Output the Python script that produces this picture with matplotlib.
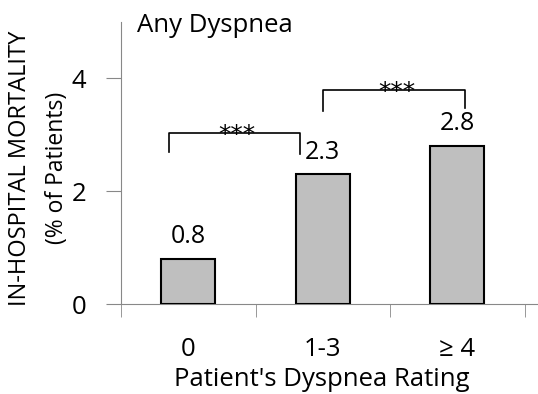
import matplotlib
matplotlib.use('Agg')
import matplotlib.pyplot as plt

categories = ["0", "1-3", "\u2265 4"]
mortality = [0.8, 2.3, 2.8]
value_labels = ["0.8", "2.3", "2.8"]

# significance brackets: (x start, x end, top, left leg bottom, right leg bottom, text)
brackets = [(-0.14, 0.83, 3.04, 2.69, 2.66, "***"),
            (1.0, 2.06, 3.79, 3.43, 3.47, "***")]

plt.rcParams['font.family'] = ['Open Sans', 'DejaVu Sans']

fig = plt.figure(figsize=(5.38, 3.94), dpi=100)
ax = fig.add_axes([121/538, 1 - 304/394, (538 - 121)/538, (304 - 22)/394])

x = list(range(len(categories)))
ax.bar(x, mortality, width=0.4, color="#bfbfbf", edgecolor="black", linewidth=1.5, zorder=3)

for xi, v, lab in zip(x, mortality, value_labels):
    ax.annotate(lab, (xi, v), xytext=(0, 7), textcoords="offset points",
                ha="center", va="bottom", fontsize=18)

for x0, x1, top, l0, l1, txt in brackets:
    ax.plot([x0, x0, x1, x1], [l0, top, top, l1], color="black", linewidth=1.2)
    ax.text((x0 + x1) / 2 + 0.02, top - 0.25, txt, ha="center", va="bottom",
            fontsize=18, family="DejaVu Sans")

ax.set_xlim(-0.5, 2.6)
ax.set_ylim(0, 5)
ax.set_yticks([0, 2, 4])
ax.set_yticklabels(["0", "2", "4"], fontsize=18.5)
ax.set_xticks(x)
ax.set_xticklabels(categories, fontsize=18.5)
ax.set_xticks([-0.5, 0.5, 1.5, 2.5], minor=True)
ax.tick_params(axis="x", which="major", length=0, pad=24)
ax.tick_params(axis="x", which="minor", length=9, color="#888888", direction="out")
ax.tick_params(axis="y", length=11, color="#888888", direction="out", pad=14)

for s in ["top", "right"]:
    ax.spines[s].set_visible(False)
ax.spines["left"].set_color("#888888")
ax.spines["bottom"].set_color("#888888")

ax.set_xlabel("Patient's Dyspnea Rating", fontsize=18.5)
ax.xaxis.set_label_coords(0.482, -0.225)

fig.text(137/538, 1 - 25/394, "Any Dyspnea", fontsize=18.5, va="center", ha="left")
fig.text(20/538, 1 - 168/394, "IN-HOSPITAL MORTALITY", rotation=90, fontsize=17,
         ha="center", va="center")
fig.text(57/538, 1 - 168/394, "(% of Patients)", rotation=90, fontsize=16.5,
         ha="center", va="center")

plt.savefig("out.png", dpi=100)
plt.close()
